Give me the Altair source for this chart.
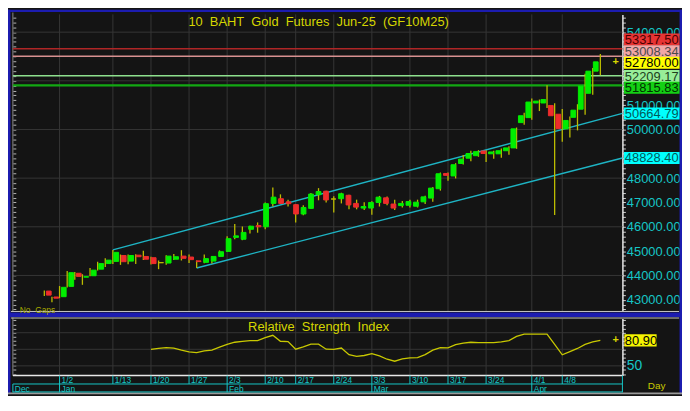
import altair as alt
import pandas as pd

# ---------------- data ----------------
dates = ["12/27", "12/30", "1/2", "1/3", "1/6", "1/7", "1/8", "1/9", "1/10",
         "1/13", "1/14", "1/15", "1/16", "1/17",
         "1/20", "1/21", "1/22", "1/23", "1/24",
         "1/27", "1/28", "1/29", "1/30", "1/31",
         "2/3", "2/4", "2/5", "2/6", "2/7",
         "2/10", "2/11", "2/13", "2/14",
         "2/17", "2/18", "2/19", "2/20", "2/21",
         "2/24", "2/25", "2/26", "2/27", "2/28",
         "3/3", "3/4", "3/5", "3/6", "3/7",
         "3/10", "3/11", "3/12", "3/13", "3/14",
         "3/17", "3/18", "3/19", "3/20", "3/21",
         "3/24", "3/25", "3/26", "3/27", "3/28",
         "3/31", "4/1", "4/2", "4/3", "4/4",
         "4/8", "4/9", "4/10", "4/11", "4/16", "4/17"]

opens = [43358, 43115, 43127, 43550, 44090, 43930, 43988, 44258, 44490,
         44577, 44820, 44590, 44834, 44780,
         44730, 44525, 44510, 44667, 44795,
         44757, 44600, 44538, 44590, 44782,
         44988, 45565, 45488, 45897, 46050,
         46000, 46961, 47154, 47026,
         46910, 46526, 46757, 47320, 47462,
         47142, 47154, 47295, 46961, 46770,
         46770, 47000, 47192, 46936, 46872,
         46885, 46846, 47026, 47180, 47565,
         48192, 48090, 48603, 48820, 48923,
         49115, 49000, 49000, 49127, 49243,
         50282, 50488, 51089, 51089, 50988,
         50627, 50025, 50500, 50833, 51488, 52397]
highs = [43380, 43120, 43565, 44180, 44142, 44050, 44308, 44565, 44705,
         45050, 44860, 44860, 44873, 45013,
         44770, 44615, 44830, 44885, 45038,
         44860, 44610, 44859, 44800, 45027,
         45615, 46115, 46012, 46040, 46180,
         47000, 47615, 47334, 47115,
         46930, 46885, 47385, 47590, 47480,
         47257, 47400, 47320, 47115, 47012,
         47050, 47270, 47250, 47115, 47064,
         47115, 47115, 47280, 47640, 48230,
         48230, 48615, 48950, 49128, 49150,
         49150, 49127, 49219, 49308, 50080,
         50692, 51270, 51230, 51815, 51077,
         50846, 50538, 51038, 52295, 52525, 53104]
lows = [43154, 42896, 43065, 43500, 43820, 43615, 43970, 44205, 44346,
        44474, 44435, 44460, 44474, 44640,
        44450, 44258, 44435, 44640, 44615,
        44513, 44308, 44500, 44490, 44760,
        44960, 45488, 45450, 45720, 45757,
        45897, 46833, 46940, 46833,
        46180, 46473, 46740, 47090, 47000,
        46590, 46961, 46718, 46718, 46690,
        46500, 46833, 46885, 46692, 46795,
        46795, 46795, 46936, 47026, 47487,
        47897, 47987, 48560, 48692, 48880,
        48667, 48796, 48835, 48962, 49205,
        50192, 50397, 50757, 50885, 46488,
        49500, 49667, 49962, 50603, 51423, 52230]
closes = [43192, 43065, 43512, 44115, 43962, 43950, 44218, 44488, 44630,
          44950, 44565, 44820, 44770, 44667,
          44488, 44525, 44795, 44770, 44705,
          44650, 44570, 44692, 44782, 44975,
          45512, 45628, 45770, 46025, 46000,
          46950, 47218, 46961, 46950,
          46526, 46795, 47346, 47450, 47103,
          47142, 47359, 46898, 46808, 46833,
          47000, 47218, 46961, 46770, 46961,
          47038, 47012, 47230, 47590, 48180,
          48115, 48551, 48782, 49012, 49089,
          49012, 49077, 49127, 49243, 50025,
          50565, 51128, 51166, 51230, 50565,
          50038, 50371, 50795, 51781, 52397, 52780]

rsi_start = 14
rsi_vals = [69.8, 71.0, 72.0, 71.5, 69.0, 67.0, 65.9, 68.0, 69.0, 72.5,
            76.0, 78.5, 79.5, 80.4, 80.4, 84.0, 86.9, 79.7, 79.2, 70.1,
            72.8, 76.2, 76.2, 70.1, 69.8, 71.5, 63.5, 61.4, 62.5, 64.8,
            62.0, 58.0, 55.6, 58.3, 59.5, 60.0, 63.5, 69.0, 72.0, 71.7,
            75.5, 77.5, 78.5, 78.1, 78.1, 78.1, 79.0, 80.5, 85.5, 88.4,
            88.4, 88.4, 88.4, 76.0, 63.3, 67.1, 71.0, 76.0, 79.0, 80.9]

week_idx = [2, 9, 14, 19, 24, 29, 33, 38, 43, 48, 53, 58, 64, 68]
week_lbl = ["1/2", "1/13", "1/20", "1/27", "2/3", "2/10", "2/17", "2/24",
            "3/3", "3/10", "3/17", "3/24", "4/1", "4/8"]
month_idx = [-4.128, 2, 24, 43, 64]
month_lbl = ["Dec", "Jan", "Feb", "Mar", "Apr"]

price_grid = [44000, 46000, 48000, 50000, 52000, 54000]
price_labels_shown = [43000, 44000, 45000, 46000, 47000, 48000, 50000, 51000, 54000]
rsi_grid = [50, 70, 90]

level_vals = [53317.50, 53008.34, 52780.00, 52209.17, 51815.83, 50664.79, 48828.40]
level_txt = ["53317.50", "53008.34", "52780.00", "52209.17", "51815.83", "50664.79", "48828.40"]
level_bg = ["#e83434", "#f2a6a6", "#ffff00", "#98ee98", "#14d014", "#00ffff", "#00ffff"]
level_fg = ["#4a0000", "#4a4a4a", "#000000", "#204020", "#003000", "#005a5a", "#005a5a"]
level_dy = [-9.8, -5.5, 1.0, 0.4, 2.5, 0.3, 0.0]
line_vals = [53317.50, 53008.34, 52209.17, 51815.83]
line_cols = ["#b02626", "#d89090", "#8ee08e", "#12a812"]
line_w = [1.6, 1.6, 1.6, 2.2]

chan_i0 = [9, 20]
chan_v0 = [45050, 44308]
chan_v1 = [50664.79, 48828.40]

last_rsi_txt = "80.90"

# ---------------- layout ----------------
W, H = 680, 388
SX, SY = W / 690, H / 411


def X(x):
    return round(x * SX, 2)


def Y(y):
    return round(y * SY, 2)


FONT = "Liberation Sans"
BG = "#141414"
GRID = "#363636"
CYAN = "#16c6c6"
TEAL = "#1eb4c4"
YEL = "#d6d600"
WICK = "#bcbc00"
GREEN = "#00ee00"
RED = "#ee2c2c"
BLUE = "#1c1cb0"

XDOM = [-4.128, 75.897]
xs = alt.Scale(domain=XDOM, range=[X(5), X(629)], nice=False, zero=False)
ps = alt.Scale(domain=[42538.5, 54730.8], range=[Y(322), Y(5)], nice=False, zero=False)
rs = alt.Scale(domain=[38.25, 107.18], range=[Y(391), Y(330)], nice=False, zero=False)

one = pd.DataFrame({"k": [0]})

candles = pd.DataFrame({"i": list(range(len(dates))), "date": dates,
                        "o": opens, "h": highs, "l": lows, "c": closes})
candles["dir"] = ["up" if c > o else ("down" if c < o else "flat")
                  for o, c in zip(candles.o, candles.c)]
rsi = pd.DataFrame({"i": list(range(rsi_start, rsi_start + len(rsi_vals))), "r": rsi_vals})
weeks = pd.DataFrame({"i": week_idx, "t": week_lbl})
months = pd.DataFrame({"i": month_idx, "t": month_lbl})
pgrid = pd.DataFrame({"v": price_grid})
rgrid = pd.DataFrame({"v": rsi_grid})
chan = pd.DataFrame({"i0": chan_i0, "v0": chan_v0, "i1": [XDOM[1]] * 2, "v1": chan_v1})

layers = []


def rect(x1, y1, x2, y2, color):
    return alt.Chart(one).mark_rect(color=color).encode(
        x=alt.value(X(x1)), x2=alt.value(X(x2)), y=alt.value(Y(y1)), y2=alt.value(Y(y2)))


def hrule(x1, x2, y, color, w=1.0):
    return alt.Chart(one).mark_rule(color=color, strokeWidth=w).encode(
        x=alt.value(X(x1)), x2=alt.value(X(x2)), y=alt.value(Y(y)))


def vrule(x, y1, y2, color, w=1.0):
    return alt.Chart(one).mark_rule(color=color, strokeWidth=w).encode(
        x=alt.value(X(x)), y=alt.value(Y(y1)), y2=alt.value(Y(y2)))


# frame
layers += [
    rect(0, 0, 690, 2.5, BLUE), rect(0, 0, 2.5, 411, BLUE), rect(687.5, 0, 690, 411, BLUE),
    rect(0, 323.5, 690, 328.5, BLUE), rect(0, 409, 690, 411, "#9a9a9a"),
]

# grids
layers.append(alt.Chart(pgrid).mark_rule(color=GRID, strokeWidth=1).encode(
    y=alt.Y("v:Q", scale=ps, axis=alt.Axis(
        orient="left", offset=-X(8), values=list(range(42600, 54800, 200)),
        labels=False, domain=False, ticks=True, tickSize=3, tickColor="#b4b4b4",
        grid=False, title=None)),
    x=alt.value(X(5)), x2=alt.value(X(629))))
layers.append(alt.Chart(weeks).mark_rule(color=GRID, strokeWidth=1).encode(
    x=alt.X("i:Q", scale=xs, axis=None), y=alt.value(Y(5)), y2=alt.value(Y(322))))
layers.append(alt.Chart(rgrid).mark_rule(color=GRID, strokeWidth=1).encode(
    y=alt.Y("v:Q", scale=rs, axis=alt.Axis(
        orient="left", offset=-X(8), values=list(range(40, 108, 5)),
        labels=False, domain=False, ticks=True, tickSize=3, tickColor="#b4b4b4",
        grid=False, title=None)),
    x=alt.value(X(5)), x2=alt.value(X(629))))
layers.append(alt.Chart(weeks).mark_rule(color=GRID, strokeWidth=1).encode(
    x=alt.X("i:Q", scale=xs, axis=None), y=alt.value(Y(330)), y2=alt.value(Y(391))))

# panel borders
layers += [
    vrule(5, 3, 322, "#8a8a8a"), vrule(5, 329, 391, "#8a8a8a"),
    hrule(3, 687, 322.5, "#c8c8c8"), hrule(3, 687, 329.5, "#c8c8c8"),
    hrule(5, 629, 391, "#e8e8e8", 1.5),
]

# horizontal level lines
for v, col, w in zip(line_vals, line_cols, line_w):
    layers.append(alt.Chart(pd.DataFrame({"v": [v]})).mark_rule(color=col, strokeWidth=w).encode(
        y=alt.Y("v:Q", scale=ps, axis=None), x=alt.value(X(5)), x2=alt.value(X(629))))

# channel
layers.append(alt.Chart(chan).mark_rule(color=TEAL, strokeWidth=1.4).encode(
    x=alt.X("i0:Q", scale=xs, axis=None), x2="i1:Q",
    y=alt.Y("v0:Q", scale=ps, axis=None), y2="v1:Q"))

# candles
shown = ",".join(str(v) for v in price_labels_shown)
layers.append(alt.Chart(candles).mark_rule(color=WICK, strokeWidth=1.3).encode(
    x=alt.X("i:Q", scale=xs, axis=None),
    y=alt.Y("l:Q", scale=ps, axis=alt.Axis(
        orient="right", offset=-(W - X(629)), values=list(range(42600, 54800, 200)),
        labelExpr=f"indexof([{shown}], datum.value) >= 0 ? format(datum.value, '.2f') : ''",
        labelOverlap=False, labelColor=CYAN, labelFont=FONT, labelFontSize=13,
        labelPadding=1, tickSize=3, tickColor="#d0d0d0", domainColor="#e6e6e6",
        domainWidth=1.5, grid=False, title=None)),
    y2="h:Q"))
cscale = alt.Scale(domain=["up", "down", "flat"], range=[GREEN, RED, WICK])
layers.append(alt.Chart(candles).mark_bar(width=4.8, strokeWidth=1).encode(
    x=alt.X("i:Q", scale=xs, axis=None),
    y=alt.Y("o:Q", scale=ps, axis=None), y2="c:Q",
    color=alt.Color("dir:N", scale=cscale, legend=None),
    stroke=alt.Stroke("dir:N", scale=cscale, legend=None)))

# right-side labels
box_path = "M-1,-0.216H1V0.216H-1Z"
for v, t, bg, fg, dy in zip(level_vals, level_txt, level_bg, level_fg, level_dy):
    d = pd.DataFrame({"v": [v], "t": [t]})
    layers.append(alt.Chart(d).mark_point(shape=box_path, size=(X(57)) ** 2, filled=True,
                                          opacity=1, color=bg, yOffset=dy * SY).encode(
        x=alt.value(X(659)), y=alt.Y("v:Q", scale=ps, axis=None)))
    layers.append(alt.Chart(d).mark_text(align="left", baseline="middle", font=FONT,
                                         fontSize=13, color=fg, dy=dy * SY + 0.5).encode(
        x=alt.value(X(631.5)), y=alt.Y("v:Q", scale=ps, axis=None), text="t:N"))

last = candles.tail(1)
layers.append(alt.Chart(last).mark_text(text="+", font=FONT, fontSize=11, fontWeight="bold",
                                        color=YEL, baseline="middle").encode(
    x=alt.value(X(622)), y=alt.Y("c:Q", scale=ps, axis=None)))

# RSI
layers.append(alt.Chart(rsi).mark_line(color="#c8c800", strokeWidth=1.3).encode(
    x=alt.X("i:Q", scale=xs, axis=None),
    y=alt.Y("r:Q", scale=rs, axis=alt.Axis(
        orient="right", offset=-(W - X(629)), values=list(range(40, 108, 5)),
        labelExpr="datum.value == 50 ? '50' : ''", labelOverlap=False,
        labelColor=CYAN, labelFont=FONT, labelFontSize=14, labelPadding=1,
        tickSize=3, tickColor="#d0d0d0", domainColor="#e6e6e6", domainWidth=1.5,
        grid=False, title=None))))
rlast = rsi.tail(1).assign(t=last_rsi_txt)
layers.append(alt.Chart(rlast).mark_point(shape="M-1,-0.38H1V0.38H-1Z", size=X(33) ** 2,
                                          filled=True, opacity=1, color="#f4f400").encode(
    x=alt.value(X(647.5)), y=alt.Y("r:Q", scale=rs, axis=None)))
layers.append(alt.Chart(rlast).mark_text(align="left", baseline="middle", font=FONT,
                                         fontSize=13, color="#000000", dy=0.5).encode(
    x=alt.value(X(631.5)), y=alt.Y("r:Q", scale=rs, axis=None), text="t:N"))
layers.append(alt.Chart(rlast).mark_text(text="+", font=FONT, fontSize=11, fontWeight="bold",
                                         color=YEL, baseline="middle").encode(
    x=alt.value(X(622)), y=alt.Y("r:Q", scale=rs, axis=None)))

# bottom date axis
layers.append(alt.Chart(weeks).mark_rule(color=CYAN, strokeWidth=1).encode(
    x=alt.X("i:Q", scale=xs, axis=None), y=alt.value(Y(391)), y2=alt.value(Y(400))))
layers.append(alt.Chart(months).mark_rule(color=CYAN, strokeWidth=1).encode(
    x=alt.X("i:Q", scale=xs, axis=None), y=alt.value(Y(400)), y2=alt.value(Y(409))))
layers += [hrule(5, 629, 400, CYAN), hrule(5, 629, 408.5, CYAN), vrule(629, 391, 409, CYAN)]
layers.append(alt.Chart(weeks).mark_text(align="left", baseline="middle", font=FONT,
                                         fontSize=8.5, color=CYAN, dx=2).encode(
    x=alt.X("i:Q", scale=xs, axis=None), y=alt.value(Y(396)), text="t:N"))
layers.append(alt.Chart(months).mark_text(align="left", baseline="middle", font=FONT,
                                          fontSize=8.5, color=CYAN, dx=2).encode(
    x=alt.X("i:Q", scale=xs, axis=None), y=alt.value(Y(405)), text="t:N"))

# texts
def label(txt, x, y, size, color, align="center"):
    return alt.Chart(one).mark_text(text=txt, font=FONT, fontSize=size, color=color,
                                    align=align, baseline="middle").encode(
        x=alt.value(X(x)), y=alt.value(Y(y)))


NB = "\u00a0"
layers += [
    label(f"10{NB} BAHT{NB} Gold{NB} Futures{NB} Jun-25{NB} (GF10M25)", 318, 13, 13, YEL),
    label(f"Relative{NB} Strength{NB} Index", 318, 339, 13, YEL),
    label(f"No{NB} Gaps", 12, 321, 8.5, "#a8a800", "left"),
    label("Day", 664, 402, 10, "#c8c800"),
]

chart = alt.layer(*layers).resolve_scale(
    x="independent", y="independent", color="independent", stroke="independent"
).properties(
    width=W, height=H, background=BG, padding=0,
    autosize=alt.AutoSizeParams(type="none")
).configure_view(stroke=None)

chart.save("out.html", embed_options={"renderer": "svg", "actions": False})
